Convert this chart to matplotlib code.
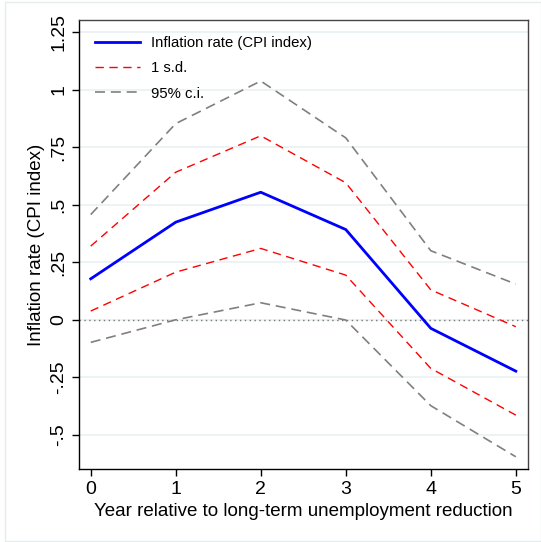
import matplotlib.pyplot as plt
from matplotlib.patches import Rectangle

plt.rcParams["font.family"] = ["Liberation Sans", "DejaVu Sans"]

years = [0, 1, 2, 3, 4, 5]
inflation = [0.178, 0.424, 0.554, 0.392, -0.037, -0.223]
sd_upper = [0.320, 0.641, 0.799, 0.595, 0.130, -0.030]
sd_lower = [0.038, 0.207, 0.310, 0.194, -0.211, -0.414]
ci_upper = [0.457, 0.852, 1.037, 0.790, 0.300, 0.155]
ci_lower = [-0.098, 0.000, 0.074, -0.001, -0.373, -0.595]

yticks = [-0.5, -0.25, 0, 0.25, 0.5, 0.75, 1, 1.25]
ytick_labels = ["-.5", "-.25", "0", ".25", ".5", ".75", "1", "1.25"]

fig = plt.figure(figsize=(5.41, 5.42), dpi=100)
ax = fig.add_axes([79 / 541, 1 - 469 / 542, (527.7 - 79) / 541, (469 - 20) / 542])

# light frame around the whole graph region
fig.patches.append(Rectangle((5 / 541, 0.002), 0.99, 0.994, transform=fig.transFigure,
                             fill=False, edgecolor="#e6ecee", lw=1))

for t in yticks:
    ax.axhline(t, color="#eaf0f2", lw=1.2, zorder=0)
ax.axhline(0, color="#777777", lw=1, ls=(0, (1, 2.5)), zorder=1)

ax.plot(years, inflation, color="#0000ff", lw=2, label="Inflation rate (CPI index)", zorder=4)
ax.plot(years, sd_upper, color="#ff0000", lw=1, ls=(0, (6, 4)), label="1 s.d.", zorder=3)
ax.plot(years, sd_lower, color="#ff0000", lw=1, ls=(0, (6, 4)), zorder=3)
ax.plot(years, ci_upper, color="#808080", lw=1.2, ls=(0, (6, 3.5)), label="95% c.i.", zorder=2)
ax.plot(years, ci_lower, color="#808080", lw=1.2, ls=(0, (6, 3.5)), zorder=2)

ax.set_xlim(-0.138, 5.14)
ax.set_ylim(-0.648, 1.302)
ax.set_xticks(years)
ax.set_yticks(yticks)
ax.set_yticklabels(ytick_labels, rotation=90, va="center")
ax.tick_params(axis="both", labelsize=14, length=5, width=1, direction="out")
ax.set_xlabel("Year relative to long-term unemployment reduction", fontsize=13.5)
ax.set_ylabel("Inflation rate (CPI index)", fontsize=13.5)

for s in ax.spines.values():
    s.set_linewidth(1)
ax.spines["top"].set_color("#444444")
ax.spines["right"].set_color("#444444")

ax.legend(loc="upper left", frameon=False, fontsize=10.7, handlelength=3.0,
          handletextpad=0.75, borderaxespad=0.7, labelspacing=0.75)

fig.savefig("out.png", dpi=100)
